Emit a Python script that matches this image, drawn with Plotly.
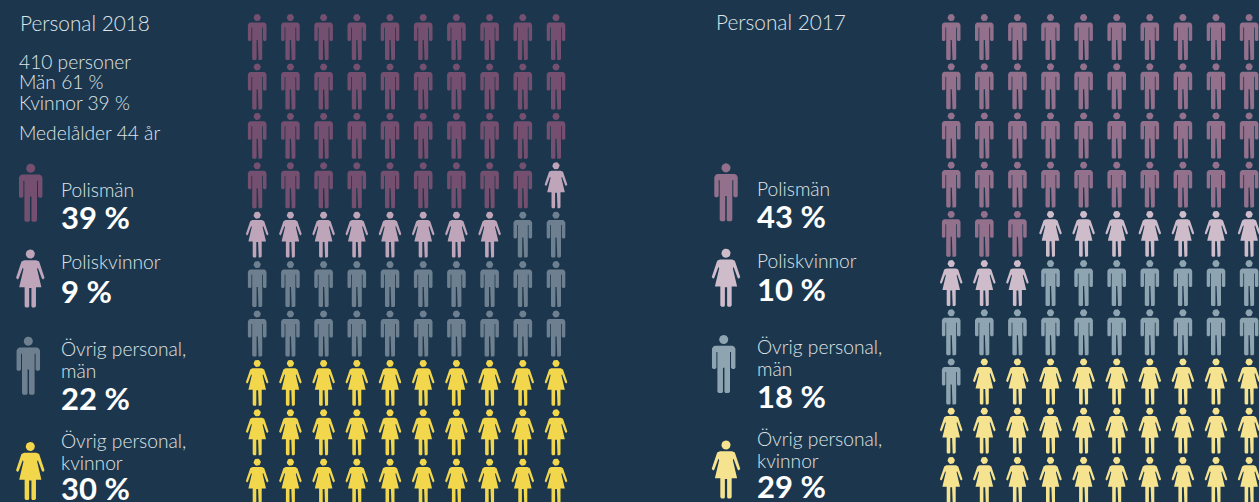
import numpy as np
import plotly.graph_objects as go

W, H = 1259, 502
BG = "#1c374d"
TEXT = "#dfe4e8"
LIGHT = "Lato Light, Lato"
BOLD = "Lato"

categories = ["Polismän", "Poliskvinnor", "Övrig personal, män", "Övrig personal, kvinnor"]
genders = ["man", "woman", "man", "woman"]
counts_2018 = [39, 9, 22, 30]
counts_2017 = [43, 10, 18, 29]
labels_2018 = ["39 %", "9 %", "22 %", "30 %"]
labels_2017 = ["43 %", "10 %", "18 %", "29 %"]
colors_2018 = ["#754f6f", "#bfa5ba", "#6e8090", "#f2d64b"]
colors_2017 = ["#93708c", "#cfbccb", "#8ea5b1", "#f6e390"]

# Glyph outlines (right half, mirrored), in a 46-unit tall icon
man_half = [(0.6, 26), (0.6, 45), (1.3, 46), (4.0, 46), (5.0, 45), (5.0, 13.5), (5.8, 13.5),
            (5.8, 26), (6.8, 27), (8.4, 27), (9.3, 26), (9.3, 11), (8.4, 9.3), (7.0, 8.5)]
woman_half = [(0.9, 30.5), (0.9, 45), (1.5, 46), (3.6, 46), (4.5, 45), (4.5, 30), (8.8, 30),
              (5.4, 15.5), (6.0, 14.5), (9.2, 23), (10.2, 23.8), (11.3, 22.4), (7.0, 9.6), (4.8, 8.5)]
theta = np.linspace(0, 2 * np.pi, 25)
head_x = list(3.6 * np.cos(theta))
head_y = list(3.6 + 3.6 * np.sin(theta))


def outline(half):
    xs = [p[0] for p in half] + [-p[0] for p in reversed(half)]
    ys = [p[1] for p in half] + [p[1] for p in reversed(half)]
    return xs + xs[:1], ys + ys[:1]


GLYPH = {"man": outline(man_half), "woman": outline(woman_half)}


def icon(gender, cx, top, scale=1.0):
    bx, by = GLYPH[gender]
    xs = [cx + v * scale for v in bx] + [None] + [cx + v * scale for v in head_x] + [None]
    ys = [top + v * scale for v in by] + [None] + [top + v * scale for v in head_y] + [None]
    return xs, ys


fig = go.Figure()


def add_glyphs(xs, ys, color, name):
    fig.add_trace(go.Scatter(x=xs, y=ys, mode="lines", fill="toself", fillcolor=color,
                             line=dict(width=0, color=color), hoverinfo="skip",
                             showlegend=False, name=name))


def waffle(counts, colors, x0, dx, y0, dy):
    idx = 0
    for c, (n, col) in enumerate(zip(counts, colors)):
        xs, ys = [], []
        for _ in range(n):
            row, column = idx // 10, idx % 10
            a, b = icon(genders[c], x0 + column * dx, y0 + row * dy)
            xs += a
            ys += b
            idx += 1
        add_glyphs(xs, ys, col, categories[c])


def legend_icons(colors, cxs, tops):
    for c, col in enumerate(colors):
        a, b = icon(genders[c], cxs[c], tops[c], 58 / 46)
        add_glyphs(a, b, col, categories[c] + " (legend)")


waffle(counts_2018, colors_2018, 257.2, 33.2, 14, 49.4)
waffle(counts_2017, colors_2017, 951.2, 33.1, 14, 49.2)
legend_icons(colors_2018, [30.7, 30.3, 28.3, 30.3], [163.7, 249.5, 336.7, 442])
legend_icons(colors_2017, [726, 726, 723.7, 726], [163.3, 248.7, 335, 440.5])

annotations = []


def txt(x, y, s, size=19.2, bold=False):
    annotations.append(dict(
        x=x - 1.5, y=y - 0.8, text=f"<b>{s}</b>" if bold else s, showarrow=False, xref="x", yref="y",
        xanchor="left", yanchor="middle", borderpad=0,
        font=dict(family=BOLD if bold else LIGHT, size=size, color="#ffffff" if bold else TEXT)))


txt(20, 23, "Personal 2018", 20.8)
for y, s in [(62, "410 personer"), (82, "Män 61 %"), (103, "Kvinnor 39 %"), (133, "Medelålder 44 år")]:
    txt(19, y, s)
for x, rows in [
    (61, [(190, "Polismän"), (262, "Poliskvinnor"), (349, "Övrig personal,"), (371, "män"),
          (441, "Övrig personal,"), (463, "kvinnor")]),
    (757, [(189, "Polismän"), (261, "Poliskvinnor"), (347, "Övrig personal,"), (369, "män"),
           (439, "Övrig personal,"), (461, "kvinnor")]),
]:
    for y, s in rows:
        txt(x, y, s)
txt(716, 22, "Personal 2017", 20.8)
for y, s in zip([218, 292, 399, 489], labels_2018):
    txt(61, y, s, 31, True)
for y, s in zip([217, 290, 397, 487], labels_2017):
    txt(757, y, s, 31, True)

fig.update_layout(
    width=W, height=H, margin=dict(l=0, r=0, t=0, b=0),
    paper_bgcolor=BG, plot_bgcolor=BG, showlegend=False, annotations=annotations,
    xaxis=dict(range=[0, W], visible=False, fixedrange=True),
    yaxis=dict(range=[H, 0], visible=False, fixedrange=True),
)
fig.write_html("out.html", config={"displayModeBar": False, "responsive": False},
               default_width=f"{W}px", default_height=f"{H}px",
               post_script="document.body.style.margin='0';document.body.style.background='" + BG + "';")
